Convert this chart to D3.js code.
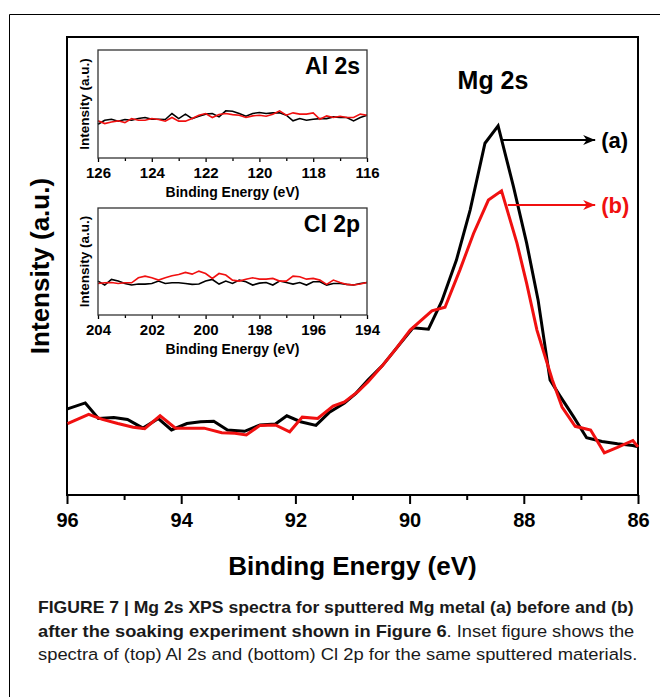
<!DOCTYPE html>
<html>
<meta charset="utf-8">
<head>
  <title>Mg 2s XPS spectra</title>
</head>

<style>
body { margin: 0; background: white; }
text {
  font-family: "Liberation Sans", Arial, Helvetica, sans-serif;
  font-weight: bold;
  fill: black;
}
.frame { fill: none; stroke: black; stroke-width: 2; }
.inset-frame { fill: none; stroke: #333; stroke-width: 1.3; }
.spec { fill: none; stroke-linejoin: miter; }
</style>

<body>
  <svg width="660" height="697"></svg>

  <script src="https://cdnjs.cloudflare.com/ajax/libs/d3/7.8.5/d3.min.js"></script>
  <script>
// main Mg 2s spectra [binding energy eV, intensity a.u.]
var mgA = [
  [95.99, 18.8], [95.68, 20.1], [95.45, 16.7], [95.18, 16.9], [94.94, 16.5],
  [94.67, 14.6], [94.40, 16.7], [94.17, 14.2], [93.90, 15.6], [93.66, 16.0],
  [93.43, 16.1], [93.19, 14.2], [92.89, 13.9], [92.62, 15.3], [92.35, 15.5],
  [92.15, 17.3], [91.91, 16.0], [91.64, 15.2], [91.41, 18.0], [91.14, 20.1],
  [90.94, 22.2], [90.73, 25.1], [90.48, 28.2], [90.24, 31.9], [89.94, 36.5],
  [89.67, 36.2], [89.44, 42.2], [89.18, 51.3], [88.94, 62.2], [88.68, 76.8],
  [88.45, 80.6], [88.18, 67.3], [87.95, 55.0], [87.75, 42.6], [87.54, 25.1],
  [87.37, 21.7], [87.13, 17.1], [86.90, 12.5], [86.63, 11.7], [86.36, 11.2],
  [86.09, 10.8], [86.00, 10.5]
];
var mgB = [
  [95.99, 15.6], [95.62, 17.6], [95.38, 16.5], [95.11, 15.6], [94.84, 14.8],
  [94.64, 14.5], [94.37, 17.3], [94.10, 14.6], [93.83, 14.6], [93.60, 14.6],
  [93.29, 13.6], [93.06, 13.5], [92.86, 13.1], [92.62, 15.2], [92.35, 15.3],
  [92.10, 13.8], [91.88, 17.0], [91.61, 16.7], [91.34, 19.4], [91.14, 20.3],
  [90.90, 22.6], [90.73, 24.7], [90.48, 28.2], [90.24, 31.9], [89.99, 36.0],
  [89.61, 40.2], [89.38, 41.0], [89.12, 49.1], [88.88, 57.1], [88.62, 64.4],
  [88.39, 66.4], [88.12, 55.0], [87.95, 46.2], [87.77, 36.0], [87.50, 25.1],
  [87.33, 19.2], [87.10, 15.0], [86.83, 14.2], [86.59, 9.2], [86.36, 10.4],
  [86.09, 11.9], [86.00, 10.5]
];

// insets: 0.25 eV steps from the high-energy end
var alEnergy = d3.range(41).map(function(i) { return 126 - i * 0.25; });
var alA = [31.3, 35.0, 35.9, 34.1, 35.6, 35.0, 36.5, 37.5, 35.9, 35.9, 35.6,
  41.2, 36.5, 40.6, 36.5, 38.7, 40.6, 41.2, 38.1, 43.7, 43.3, 41.2, 38.7, 41.2,
  42.1, 41.2, 41.8, 41.8, 39.6, 34.4, 36.5, 35.0, 35.9, 36.5, 36.5, 38.1, 37.5,
  37.5, 34.4, 37.5, 39.6];
var alB = [34.4, 31.9, 33.4, 34.4, 32.8, 36.5, 35.0, 35.0, 36.5, 35.6, 34.1,
  37.5, 34.1, 34.1, 36.5, 39.6, 41.2, 37.5, 40.2, 41.2, 40.2, 39.6, 37.5, 39.0,
  39.6, 38.7, 40.6, 43.7, 39.6, 41.8, 40.6, 40.6, 41.8, 35.9, 39.0, 37.5, 38.7,
  37.5, 37.5, 40.6, 39.6];

var clEnergy = d3.range(41).map(function(i) { return 204 - i * 0.25; });
var clA = [31.7, 28.0, 33.2, 31.7, 29.5, 28.0, 28.9, 28.9, 29.5, 31.7, 29.5,
  30.1, 30.1, 29.5, 28.6, 28.9, 31.7, 33.2, 28.9, 31.7, 29.5, 32.6, 31.1, 28.0,
  29.8, 30.4, 28.0, 31.7, 30.4, 28.9, 30.4, 28.0, 31.1, 31.1, 28.0, 29.5, 29.5,
  28.6, 28.0, 29.5, 30.4];
var clB = [29.5, 30.1, 30.4, 29.5, 30.1, 30.1, 34.8, 36.3, 34.8, 32.6, 34.8,
  36.6, 37.9, 39.8, 38.2, 41.0, 38.8, 34.2, 38.8, 37.3, 32.6, 31.7, 33.5, 34.8,
  33.5, 33.5, 34.2, 31.7, 31.7, 36.3, 35.7, 33.5, 34.2, 32.6, 28.6, 32.6, 30.4,
  28.6, 28.0, 28.9, 30.4];

var mainTicks = [96, 94, 92, 90, 88, 86];
var mainMinor = [95, 93, 91, 89, 87];
var alTicks = [126, 124, 122, 120, 118, 116];
var alMinor = [125, 123, 121, 119, 117];
var clTicks = [204, 202, 200, 198, 196, 194];
var clMinor = [203, 201, 199, 197, 195];

// arrow labels: [start energy, end energy, intensity]
var arrowA = [88.39, 86.75, 77.5];
var arrowB = [88.28, 86.75, 63.3];

var svg = d3.select('svg');

// outer figure border (left and top)
svg.append('path')
  .attr('d', 'M9.5,697V14.5H660')
  .attr('fill', 'none')
  .attr('stroke', 'black')
  .attr('stroke-width', 1);

var x = d3.scaleLinear().domain([96, 86]).range([67, 638]);
var y = d3.scaleLinear().domain([0, 100]).range([495, 37]);

var xAxis = svg.append('g')
  .attr('transform', 'translate(0,495)')
  .call(d3.axisBottom(x).tickValues(mainTicks).tickSize(9).tickPadding(9)
    .tickFormat(d3.format('d')));
xAxis.select('.domain').remove();
xAxis.selectAll('line').attr('stroke-width', 2);
xAxis.selectAll('text')
  .attr('font-size', 20).attr('font-family', null).attr('font-weight', 'bold');

var xMinor = svg.append('g')
  .attr('transform', 'translate(0,495)')
  .call(d3.axisBottom(x).tickValues(mainMinor).tickSize(5).tickFormat(''));
xMinor.select('.domain').remove();
xMinor.selectAll('line').attr('stroke-width', 2);

svg.append('rect')
  .attr('class', 'frame')
  .attr('x', 67).attr('y', 37).attr('width', 571).attr('height', 458);

var line = d3.line()
  .x(function(d) { return x(d[0]); })
  .y(function(d) { return y(d[1]); });

svg.append('path').attr('class', 'spec').attr('d', line(mgA))
  .attr('stroke', 'black').attr('stroke-width', 3);
svg.append('path').attr('class', 'spec').attr('d', line(mgB))
  .attr('stroke', '#f01010').attr('stroke-width', 3);

svg.append('text')
  .attr('x', 352.5).attr('y', 575)
  .attr('text-anchor', 'middle').attr('font-size', 26)
  .text('Binding Energy (eV)');

svg.append('text')
  .attr('transform', 'translate(49,266) rotate(-90)')
  .attr('text-anchor', 'middle').attr('font-size', 26)
  .text('Intensity (a.u.)');

svg.append('text')
  .attr('x', 493).attr('y', 89)
  .attr('text-anchor', 'middle').attr('font-size', 25)
  .text('Mg 2s');

// arrows
var defs = svg.append('defs');
['black', '#f01010'].forEach(function(c, i) {
  defs.append('marker')
    .attr('id', 'head' + i)
    .attr('viewBox', '-13 -6 14 12')
    .attr('markerWidth', 14).attr('markerHeight', 12)
    .attr('refX', 0).attr('refY', 0)
    .attr('markerUnits', 'userSpaceOnUse')
    .attr('orient', 'auto')
    .append('path')
    .attr('d', 'M0,0L-12,-5L-8.5,0L-12,5Z')
    .attr('fill', c);
});

[[arrowA, 'black', '(a)', 0], [arrowB, '#f01010', '(b)', 1]].forEach(function(a) {
  var d = a[0];
  svg.append('line')
    .attr('x1', x(d[0])).attr('x2', x(d[1]))
    .attr('y1', y(d[2])).attr('y2', y(d[2]))
    .attr('stroke', a[1]).attr('stroke-width', 2)
    .attr('marker-end', 'url(#head' + a[3] + ')');
  svg.append('text')
    .attr('x', x(d[1]) + 6).attr('y', y(d[2]) + 8)
    .attr('font-size', 22)
    .style('fill', a[1])
    .text(a[2]);
});

// insets
function inset(top, bottom, domain, ticks, minor, label, energy, a, b) {
  var ix = d3.scaleLinear().domain(domain).range([98, 367]);
  var iy = d3.scaleLinear().domain([0, 100]).range([bottom, top]);

  var g = svg.append('g');
  g.append('rect').attr('x', 98).attr('y', top)
    .attr('width', 269).attr('height', bottom - top)
    .attr('fill', 'white');

  var ax = g.append('g')
    .attr('transform', 'translate(0,' + bottom + ')')
    .call(d3.axisBottom(ix).tickValues(ticks).tickSize(4).tickPadding(5)
      .tickFormat(d3.format('d')));
  ax.select('.domain').remove();
  ax.selectAll('line').attr('stroke-width', 1.3);
  ax.selectAll('text')
    .attr('font-size', 15).attr('font-family', null).attr('font-weight', 'bold');

  var am = g.append('g')
    .attr('transform', 'translate(0,' + bottom + ')')
    .call(d3.axisBottom(ix).tickValues(minor).tickSize(3).tickFormat(''));
  am.select('.domain').remove();
  am.selectAll('line').attr('stroke-width', 1.3);

  var il = d3.line()
    .x(function(d) { return ix(d[0]); })
    .y(function(d) { return iy(d[1]); });
  g.append('path').attr('class', 'spec')
    .attr('d', il(energy.map(function(e, i) { return [e, a[i]]; })))
    .attr('stroke', 'black').attr('stroke-width', 1.6);
  g.append('path').attr('class', 'spec')
    .attr('d', il(energy.map(function(e, i) { return [e, b[i]]; })))
    .attr('stroke', '#f01010').attr('stroke-width', 1.6);

  g.append('rect').attr('class', 'inset-frame')
    .attr('x', 98).attr('y', top)
    .attr('width', 269).attr('height', bottom - top);

  g.append('text')
    .attr('x', 232.5).attr('y', bottom + 39)
    .attr('text-anchor', 'middle').attr('font-size', 14)
    .text('Binding Energy (eV)');
  g.append('text')
    .attr('transform', 'translate(89,' + (top + bottom) / 2 + ') rotate(-90)')
    .attr('text-anchor', 'middle').attr('font-size', 13.5)
    .text('Intensity (a.u.)');
  g.append('text')
    .attr('x', 360).attr('y', top + 24)
    .attr('text-anchor', 'end').attr('font-size', 23)
    .text(label);
}

inset(50, 158, [126, 116], alTicks, alMinor, 'Al 2s', alEnergy, alA, alB);
inset(208, 315, [204, 194], clTicks, clMinor, 'Cl 2p', clEnergy, clA, clB);

// caption
var caption = [
  [['FIGURE 7 | Mg 2s XPS spectra for sputtered Mg metal (a) before and (b)', 'bold']],
  [['after the soaking experiment shown in Figure 6', 'bold'],
   ['. Inset figure shows the', 'normal']],
  [['spectra of (top) Al 2s and (bottom) Cl 2p for the same sputtered materials.', 'normal']]
];
var capEnds = [634, 635, 638];
caption.forEach(function(parts, i) {
  var t = svg.append('text')
    .attr('font-size', 17)
    .style('fill', '#1a1a1a');
  parts.forEach(function(p) {
    t.append('tspan').attr('font-weight', p[1]).text(p[0]);
  });
  var w = t.node().getComputedTextLength();
  var k = (capEnds[i] - 38) / w;
  t.attr('transform', 'translate(38,' + (613 + i * 23.5) + ') scale(' + k + ',1)');
});
  </script>
</body>
</html>
